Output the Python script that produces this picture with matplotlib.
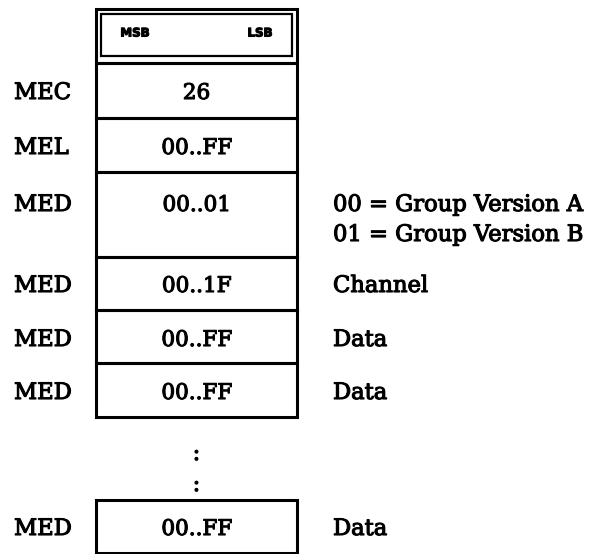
import matplotlib
matplotlib.use('Agg')
import matplotlib.pyplot as plt
import matplotlib.patheffects as pe
from matplotlib.patches import Rectangle

# field layout of the message (pixel rows, top to bottom)
labels = ['MEC', 'MEL', 'MED', 'MED', 'MED', 'MED']
values = ['26', '00..FF', '00..01', '00..1F', '00..FF', '00..FF']
notes = [[], [], ['00 = Group Version A', '01 = Group Version B'], ['Channel'], ['Data'], ['Data']]
row_edges = [63, 118, 172, 257, 310, 363, 417]
text_y = [93, 148, 205, 286, 340, 393]

last_label = 'MED'
last_value = '00..FF'
last_note = 'Data'
last_box = (500, 553)
dot_y = [454, 485]

box_left, box_right = 96, 297
header_top = 9

plt.rcParams['font.family'] = ['DejaVu Serif']
thick = [pe.withStroke(linewidth=0.8, foreground='black')]

fig = plt.figure(figsize=(5.92, 5.54), dpi=100)
ax = fig.add_axes([0, 0, 1, 1])
ax.set_xlim(0, 592)
ax.set_ylim(554, 0)
ax.axis('off')

lw = 2.2
fs = 16.3


def txt(x, y, s, ha='left', size=fs):
    ax.text(x, y, s, fontsize=size, ha=ha, va='center', path_effects=thick)


# header box (double outline)
ax.add_patch(Rectangle((box_left, header_top), box_right - box_left, row_edges[0] - header_top,
                       fill=False, lw=lw, ec='black'))
ax.add_patch(Rectangle((box_left + 5, header_top + 5), box_right - box_left - 10, row_edges[0] - header_top - 12,
                       fill=False, lw=1.6, ec='black'))
ax.text(135, 33, 'MSB', fontsize=8.5, fontweight='bold', ha='center', va='center', family='DejaVu Sans',
        path_effects=thick)
ax.text(260, 33, 'LSB', fontsize=8.5, fontweight='bold', ha='center', va='center', family='DejaVu Sans',
        path_effects=thick)

# main rows
for i in range(len(labels)):
    top, bot = row_edges[i], row_edges[i + 1]
    ax.add_patch(Rectangle((box_left, top), box_right - box_left, bot - top, fill=False, lw=lw, ec='black'))
    txt(14, text_y[i], labels[i])
    txt((box_left + box_right) / 2, text_y[i], values[i], ha='center', size=15.5)
    for j, n in enumerate(notes[i]):
        txt(333, text_y[i] + j * 30, n)

# continuation dots
for y in dot_y:
    txt((box_left + box_right) / 2, y, ':', ha='center')

# last row
top, bot = last_box
ax.add_patch(Rectangle((box_left, top), box_right - box_left, bot - top, fill=False, lw=lw, ec='black'))
txt(14, 529, last_label)
txt((box_left + box_right) / 2, 529, last_value, ha='center', size=15.5)
txt(333, 529, last_note)

plt.savefig('out.png', dpi=100)
